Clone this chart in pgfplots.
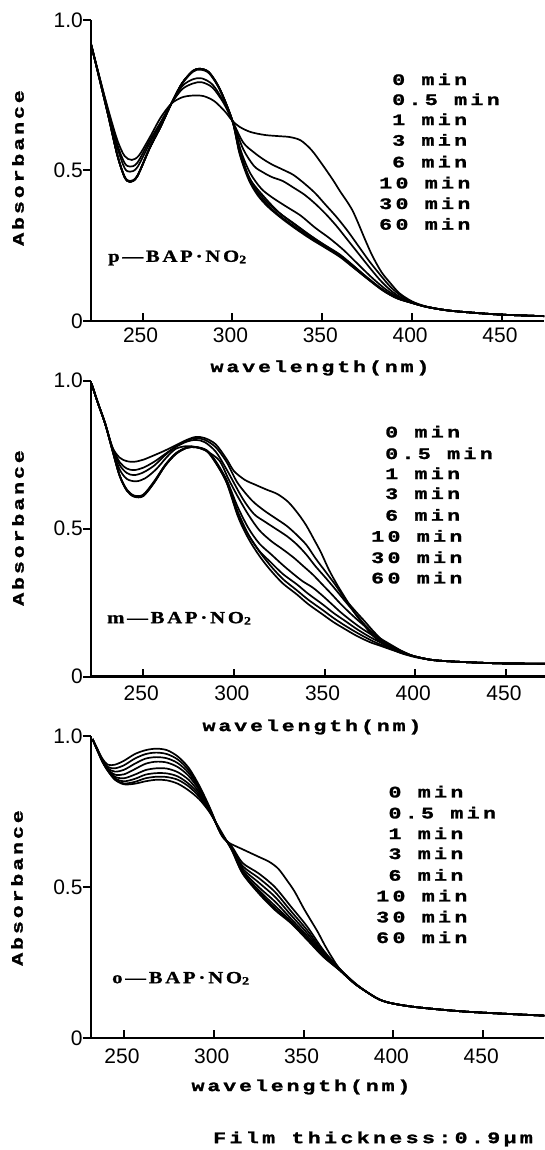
\documentclass[border=0pt]{standalone}
\usepackage{pgfplots}
\pgfplotsset{compat=1.18}
\usepackage{fontspec}
\setmainfont{Liberation Serif}
\newfontfamily\courf[FakeStretch=1.35,LetterSpace=18,FakeBold=1.5]{Liberation Mono Bold}
\newfontfamily\courw[FakeStretch=1.35,LetterSpace=21,FakeBold=1.5]{Liberation Mono Bold}
\newfontfamily\serfb[FakeStretch=1.22,LetterSpace=16,FakeBold=1]{Liberation Serif Bold}
\newfontfamily\sansf{Liberation Sans}
\newcommand\cf{\courf\fontsize{16}{16}\selectfont}
\newcommand\cw{\courw\fontsize{16}{16}\selectfont}
\newcommand\tf{\sansf\fontsize{21}{21}\selectfont}
\newcommand\lf{\serfb\fontsize{17}{17}\selectfont}
\newcommand\subtwo{\raisebox{-1.5pt}{\fontsize{11.5}{11.5}\selectfont 2}}
\pgfplotsset{
  spec/.style={
    scale only axis, anchor=south west,
    axis x line=bottom, axis y line=left,
    axis line style={-, line width=2.4pt},
    ymin=0, ymax=1,
    xtick={250,300,350,400,450}, xticklabels={250,300,350,400,450},
    ytick={0,0.5,1}, yticklabels={0,0.5,1.0},
    tick align=inside, major tick length=8pt,
    tick style={line width=2pt, black},
    ytick style={xshift=-8pt},
    ticklabel style={font=\tf, inner sep=0pt},
    yticklabel style={anchor=east, xshift=-8pt},
    cycle list={{black, solid, mark=none}},
    every axis plot post/.append style={black, solid, mark=none, line width=1.7pt, smooth},
  }
}
\begin{document}
\begin{tikzpicture}
\useasboundingbox (0pt,0pt) rectangle (544pt,1150pt);
% ---------------- panel 1 : p-BAP.NO2
\begin{axis}[spec, at={(91pt,829pt)}, width=453.2pt, height=301pt,
  xmin=221.3, xmax=473.5, xticklabel style={anchor=north, yshift=-6.5pt, xshift=-2pt}]
\addplot coordinates {(221.3,.92)(226,.81)(231,.70)(236,.60)(240,.548)(244,.535)(248,.55)(254,.61)(260,.675)(266,.722)(272,.743)(278,.749)(284,.747)(290,.73)(296,.695)(300,.665)(304,.645)(310,.628)(318,.618)(326,.614)(332,.611)(338,.60)(344,.568)(350,.52)(356,.468)(360,.43)(364,.395)(367,.365)(370,.325)(374,.268)(378,.215)(383,.162)(388,.125)(393,.092)(400,.065)(408,.048)(420,.035)(435,.027)(450,.021)(473.5,.016)};
\addplot coordinates {(221.3,.92)(226,.81)(231,.695)(236,.585)(240,.525)(243,.513)(247,.525)(254,.60)(260,.66)(266,.722)(272,.77)(278,.789)(283,.793)(289,.775)(295,.725)(300,.665)(306,.593)(312,.56)(317,.538)(322,.52)(328,.503)(334,.485)(340,.457)(346,.425)(352,.385)(358,.345)(364,.30)(370,.25)(376,.20)(382,.155)(388,.113)(394,.083)(400,.063)(408,.047)(420,.035)(435,.027)(450,.021)(473.5,.016)};
\addplot coordinates {(221.3,.92)(226,.81)(231,.69)(236,.575)(240,.508)(243,.496)(247,.51)(254,.59)(260,.655)(266,.722)(272,.78)(278,.803)(283,.806)(289,.785)(295,.73)(300,.665)(306,.571)(312,.515)(317,.494)(322,.478)(328,.465)(334,.443)(340,.42)(346,.39)(352,.355)(358,.315)(364,.27)(370,.225)(376,.18)(382,.137)(388,.102)(394,.077)(400,.061)(408,.047)(420,.035)(435,.027)(450,.021)(473.5,.016)};
\addplot coordinates {(221.3,.92)(226,.805)(231,.68)(236,.55)(240,.478)(243,.463)(247,.48)(254,.575)(260,.645)(266,.722)(272,.79)(278,.83)(282,.837)(287,.825)(293,.77)(300,.665)(305,.56)(310,.49)(316,.44)(322,.411)(330,.38)(338,.35)(346,.31)(354,.275)(362,.235)(370,.188)(378,.142)(386,.102)(394,.074)(400,.06)(408,.047)(420,.035)(435,.027)(450,.021)(473.5,.016)};
\addplot coordinates {(221.3,.92)(226,.805)(231,.68)(236,.55)(240,.48)(243,.465)(247,.482)(254,.575)(260,.645)(266,.722)(272,.788)(278,.828)(282,.835)(287,.823)(293,.768)(300,.665)(305,.55)(310,.47)(318,.41)(326,.36)(334,.325)(342,.29)(350,.257)(358,.225)(366,.19)(374,.148)(382,.11)(390,.08)(400,.06)(408,.047)(420,.035)(435,.027)(450,.021)(473.5,.016)};
\addplot coordinates {(221.3,.92)(226,.805)(231,.68)(236,.55)(240,.478)(243,.462)(247,.48)(254,.575)(260,.645)(266,.722)(272,.79)(278,.831)(282,.838)(287,.826)(293,.77)(300,.665)(304,.56)(309,.48)(314,.43)(320,.39)(328,.35)(336,.315)(344,.28)(352,.25)(360,.22)(368,.18)(376,.14)(384,.103)(392,.076)(400,.06)(408,.047)(420,.035)(435,.027)(450,.021)(473.5,.016)};
\addplot coordinates {(221.3,.92)(226,.805)(231,.68)(236,.55)(240,.478)(243,.462)(247,.48)(254,.575)(260,.645)(266,.722)(272,.79)(278,.831)(282,.838)(287,.826)(293,.77)(300,.665)(304,.56)(309,.475)(314,.422)(320,.382)(328,.342)(336,.308)(344,.275)(352,.245)(360,.215)(368,.176)(376,.137)(384,.101)(392,.075)(400,.06)(408,.047)(420,.035)(435,.027)(450,.021)(473.5,.016)};
\addplot coordinates {(221.3,.92)(226,.805)(231,.68)(236,.55)(240,.478)(243,.462)(247,.48)(254,.575)(260,.645)(266,.722)(272,.79)(278,.831)(282,.838)(287,.826)(293,.77)(300,.665)(304,.555)(309,.47)(314,.418)(320,.378)(328,.338)(336,.303)(344,.271)(352,.242)(360,.212)(368,.174)(376,.136)(384,.1)(392,.074)(400,.06)(408,.047)(420,.035)(435,.027)(450,.021)(473.5,.016)};
\end{axis}
% ---------------- panel 2 : m-BAP.NO2
\begin{axis}[spec, at={(91pt,473.3pt)}, width=453.9pt, height=296pt,
  xmin=221.2, xmax=471.5, xticklabel style={anchor=north, yshift=-9pt, xshift=-2pt}]
\addplot coordinates {(221.5,.99)(225,.925)(229,.855)(233,.775)(237,.74)(241,.728)(245,.726)(250,.733)(256,.748)(262,.764)(268,.782)(274,.80)(279,.81)(284,.806)(290,.785)(296,.735)(300,.695)(306,.665)(312,.648)(318,.632)(324,.617)(330,.59)(335.5,.55)(340,.51)(344.5,.46)(348,.42)(352.5,.36)(357,.31)(361.5,.265)(366,.22)(371,.18)(375,.15)(380,.12)(386,.097)(392,.08)(400,.066)(410,.056)(425,.05)(447,.045)(471.5,.044)};
\addplot coordinates {(221.5,.99)(225,.925)(229,.855)(233,.775)(237,.725)(241,.703)(245,.698)(250,.706)(256,.726)(262,.752)(268,.778)(274,.798)(279,.806)(284,.80)(290,.775)(296,.725)(302,.655)(310,.595)(317,.56)(323,.535)(329,.51)(334.5,.48)(340,.445)(345,.40)(350.5,.355)(356,.31)(361,.265)(366.5,.225)(372,.188)(377,.153)(382.5,.12)(388,.1)(393,.083)(400,.068)(410,.056)(425,.05)(447,.045)(471.5,.044)};
\addplot coordinates {(221.5,.99)(225,.925)(229,.855)(233,.772)(237,.715)(241,.688)(245,.681)(250,.69)(256,.713)(262,.748)(268,.776)(274,.794)(279,.80)(284,.792)(290,.76)(296,.70)(304.7,.603)(311,.55)(317,.524)(323,.50)(329.4,.474)(335,.445)(340,.412)(345,.373)(350.6,.334)(356,.295)(361.2,.256)(366.5,.217)(371.8,.178)(377,.145)(382.4,.116)(388,.097)(393,.082)(400,.068)(410,.056)(425,.05)(447,.045)(471.5,.044)};
\addplot coordinates {(221.5,.99)(225,.925)(229,.855)(233,.768)(237,.70)(241,.668)(246,.66)(251,.67)(257,.70)(263,.742)(268,.77)(274,.779)(279,.776)(285,.762)(292,.73)(297,.668)(302,.61)(308,.547)(314,.495)(320.6,.458)(327,.43)(333,.402)(338,.375)(343.5,.345)(349,.31)(354,.278)(359,.245)(364.7,.211)(370,.182)(375.3,.155)(380,.132)(386,.11)(394,.082)(400,.068)(410,.056)(425,.05)(447,.045)(471.5,.044)};
\addplot coordinates {(221.5,.99)(225,.925)(229,.855)(233,.766)(237,.68)(241,.632)(245,.612)(250,.615)(256,.66)(262,.715)(268,.755)(274,.774)(279,.776)(285,.765)(290,.728)(296,.665)(302,.575)(308,.502)(314,.45)(320.6,.413)(327,.377)(333,.346)(338,.322)(343.5,.301)(349,.273)(354,.245)(359,.217)(364.7,.189)(370,.165)(375.3,.144)(380,.125)(386,.105)(395,.08)(400,.068)(410,.056)(425,.05)(447,.045)(471.5,.044)};
\addplot coordinates {(221.5,.99)(225,.925)(229,.855)(233,.766)(237,.68)(241,.63)(245,.61)(250,.612)(256,.657)(262,.713)(268,.754)(274,.774)(279,.776)(285,.764)(290,.725)(296,.66)(302,.56)(308,.48)(314,.425)(320.6,.385)(327,.347)(334.7,.312)(341,.28)(348.8,.245)(355,.215)(361.2,.189)(368,.16)(375.3,.133)(381,.115)(386,.1)(393,.082)(400,.068)(410,.056)(425,.05)(447,.045)(471.5,.044)};
\addplot coordinates {(221.5,.99)(225,.925)(229,.855)(233,.765)(237,.678)(241,.628)(245,.608)(250,.61)(256,.655)(262,.712)(268,.752)(274,.773)(279,.775)(285,.762)(290,.722)(296,.655)(302,.545)(306,.49)(310,.446)(315,.40)(320.6,.357)(327,.315)(334.7,.278)(341,.245)(348.8,.211)(355,.184)(361.2,.161)(368,.137)(375.3,.116)(381,.104)(386,.093)(393,.079)(400,.068)(410,.056)(425,.05)(447,.045)(471.5,.044)};
\addplot coordinates {(221.5,.99)(225,.925)(229,.855)(233,.765)(237,.679)(241,.629)(245,.609)(250,.611)(256,.656)(262,.712)(268,.753)(274,.773)(279,.775)(285,.763)(290,.723)(296,.657)(302,.55)(306,.50)(310,.46)(315,.415)(320.6,.372)(327,.33)(334.7,.292)(341,.26)(348.8,.226)(355,.198)(361.2,.173)(368,.148)(375.3,.124)(381,.108)(386,.096)(393,.08)(400,.068)(410,.056)(425,.05)(447,.045)(471.5,.044)};
\end{axis}
% ---------------- panel 3 : o-BAP.NO2
\begin{axis}[spec, at={(90.7pt,112pt)}, width=453.6pt, height=302pt,
  xmin=231.5, xmax=484, xticklabel style={anchor=north, yshift=-11pt, xshift=-2pt}]
\addplot coordinates {(232.5,.99)(235,.96)(238,.925)(241,.905)(245,.905)(250,.918)(256,.94)(262,.953)(268,.958)(274,.953)(280,.932)(286,.895)(292,.835)(298,.76)(304,.675)(308,.648)(316,.625)(325,.60)(331,.583)(336,.56)(341,.52)(345,.485)(350,.43)(354,.39)(358,.35)(362,.305)(366,.265)(370,.23)(378,.182)(385,.153)(392,.128)(399,.115)(413,.102)(441,.087)(484,.074)};
\addplot coordinates {(232.5,.99)(235,.958)(238,.922)(241,.898)(245,.893)(250,.903)(256,.925)(262,.94)(268,.945)(274,.94)(280,.922)(286,.887)(292,.83)(298,.757)(304,.676)(310,.635)(316,.58)(325,.545)(334,.50)(343,.435)(352,.369)(361,.291)(370,.23)(378,.185)(385,.153)(392,.128)(399,.115)(413,.102)(441,.087)(484,.074)};
\addplot coordinates {(232.5,.99)(235,.958)(238,.92)(241,.893)(245,.882)(250,.888)(256,.908)(262,.925)(268,.93)(274,.926)(280,.91)(286,.878)(292,.825)(298,.755)(304,.677)(310,.632)(316,.57)(325,.53)(334,.484)(343,.42)(352,.357)(361,.285)(370,.228)(378,.184)(385,.153)(392,.128)(399,.115)(413,.102)(441,.087)(484,.074)};
\addplot coordinates {(232.5,.99)(235,.957)(238,.918)(241,.89)(245,.872)(250,.873)(256,.89)(262,.908)(268,.915)(274,.912)(280,.897)(286,.868)(292,.82)(298,.753)(304,.677)(310,.63)(316,.562)(325,.515)(334,.468)(343,.407)(352,.347)(361,.28)(370,.227)(378,.183)(385,.153)(392,.128)(399,.115)(413,.102)(441,.087)(484,.074)};
\addplot coordinates {(232.5,.99)(235,.956)(238,.917)(241,.888)(245,.865)(250,.86)(256,.872)(262,.887)(268,.893)(274,.892)(280,.88)(286,.855)(292,.812)(298,.75)(304,.678)(310,.628)(316,.556)(325,.50)(334,.452)(343,.395)(352,.338)(361,.276)(370,.226)(378,.183)(385,.153)(392,.128)(399,.115)(413,.102)(441,.087)(484,.074)};
\addplot coordinates {(232.5,.99)(235,.956)(238,.916)(241,.886)(245,.86)(250,.85)(256,.858)(262,.872)(268,.877)(274,.876)(280,.866)(286,.842)(292,.805)(298,.748)(304,.68)(310,.626)(316,.55)(325,.49)(334,.438)(343,.387)(352,.331)(361,.272)(370,.225)(378,.182)(385,.153)(392,.128)(399,.115)(413,.102)(441,.087)(484,.074)};
\addplot coordinates {(232.5,.99)(235,.955)(238,.915)(241,.885)(245,.857)(250,.843)(256,.848)(262,.86)(268,.865)(274,.864)(280,.855)(286,.833)(292,.798)(298,.746)(304,.682)(310,.624)(316,.547)(325,.483)(334,.43)(343,.382)(352,.327)(361,.27)(370,.225)(378,.182)(385,.153)(392,.128)(399,.115)(413,.102)(441,.087)(484,.074)};
\addplot coordinates {(232.5,.99)(235,.955)(238,.915)(241,.885)(245,.855)(250,.84)(256,.842)(262,.85)(268,.855)(274,.853)(280,.842)(286,.82)(292,.79)(298,.745)(304,.685)(310,.622)(316,.545)(325,.479)(334,.424)(343,.38)(352,.325)(361,.269)(370,.225)(378,.182)(385,.153)(392,.128)(399,.115)(413,.102)(441,.087)(484,.074)};
\end{axis}
% ---------------- texts
\begin{scope}[every node/.style={inner sep=0pt}]
\node[rotate=90, font=\cf] at (18pt,982pt) {Absorbance};
\node[rotate=90, font=\cf] at (18pt,622pt) {Absorbance};
\node[rotate=90, font=\cf] at (17pt,262pt) {Absorbance};
\node[font=\cf] at (320pt,782pt) {wavelength(nm)};
\node[font=\cf] at (312pt,423pt) {wavelength(nm)};
\node[font=\cf] at (301pt,63pt) {wavelength(nm)};
\node[font=\cw, anchor=west] at (213pt,11pt) {Film thickness:0.9μm};
\node[font=\lf, anchor=west] at (108pt,892pt) {p—BAP\,·\,NO\subtwo};
\node[font=\lf, anchor=west] at (107pt,531.7pt) {m—BAP\,·\,NO\subtwo};
\node[font=\lf, anchor=west] at (112pt,171.7pt) {o—BAP\,·\,NO\subtwo};
% legend panel 1
\node[font=\cw, anchor=west] at (392pt,1070.7pt) {0 min};
\node[font=\cw, anchor=west] at (392pt,1050.7pt) {0.5 min};
\node[font=\cw, anchor=west] at (392pt,1030.7pt) {1 min};
\node[font=\cw, anchor=west] at (392pt,1010pt) {3 min};
\node[font=\cw, anchor=west] at (392pt,988.3pt) {6 min};
\node[font=\cw, anchor=west] at (379pt,967.3pt) {10 min};
\node[font=\cw, anchor=west] at (379pt,946.7pt) {30 min};
\node[font=\cw, anchor=west] at (379pt,926pt) {60 min};
% legend panel 2
\node[font=\cw, anchor=west] at (385pt,718.3pt) {0 min};
\node[font=\cw, anchor=west] at (385pt,696.7pt) {0.5 min};
\node[font=\cw, anchor=west] at (385pt,676.7pt) {1 min};
\node[font=\cw, anchor=west] at (385pt,656.7pt) {3 min};
\node[font=\cw, anchor=west] at (385pt,635pt) {6 min};
\node[font=\cw, anchor=west] at (371pt,614pt) {10 min};
\node[font=\cw, anchor=west] at (371pt,592.7pt) {30 min};
\node[font=\cw, anchor=west] at (371pt,572.3pt) {60 min};
% legend panel 3
\node[font=\cw, anchor=west] at (388.3pt,358.3pt) {0 min};
\node[font=\cw, anchor=west] at (388.3pt,337.3pt) {0.5 min};
\node[font=\cw, anchor=west] at (388.3pt,316.7pt) {1 min};
\node[font=\cw, anchor=west] at (388.3pt,296.7pt) {3 min};
\node[font=\cw, anchor=west] at (388.3pt,275pt) {6 min};
\node[font=\cw, anchor=west] at (376pt,254.3pt) {10 min};
\node[font=\cw, anchor=west] at (376pt,233.3pt) {30 min};
\node[font=\cw, anchor=west] at (376pt,212.7pt) {60 min};
\end{scope}
\end{tikzpicture}
\end{document}
